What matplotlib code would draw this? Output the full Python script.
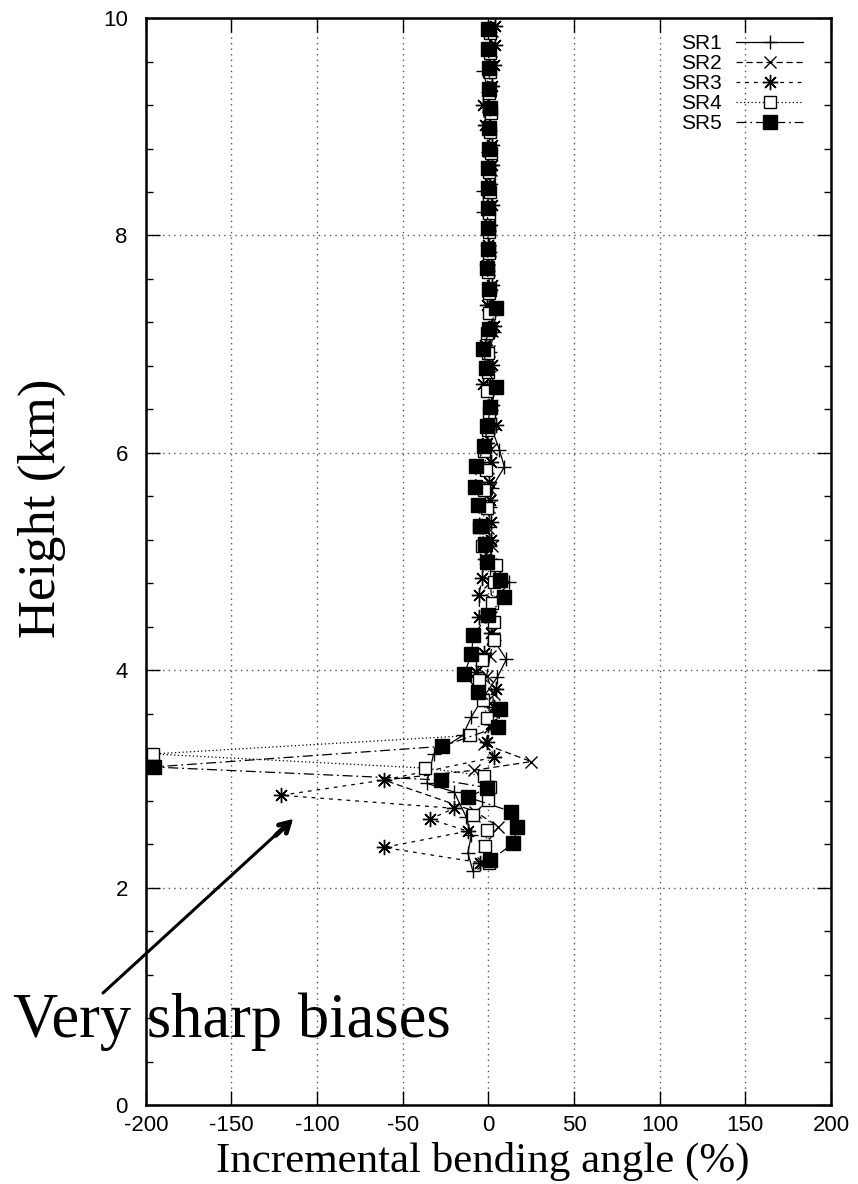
import matplotlib
matplotlib.use("Agg")
import matplotlib.pyplot as plt
from matplotlib.ticker import MultipleLocator

plt.rcParams["axes.unicode_minus"] = False

# Incremental bending angle (%) against height (km) for five retrievals
h1 = [9.87, 9.69, 9.51, 9.32, 9.14, 8.96, 8.77, 8.59, 8.41, 8.22, 8.04, 7.85, 7.67, 7.48, 7.30,
      7.11, 6.93, 6.75, 6.58, 6.39, 6.22, 6.03, 5.87, 5.68, 5.50, 5.32, 5.14, 4.97, 4.81, 4.62,
      4.45, 4.28, 4.10, 3.94, 3.75, 3.57, 3.40, 3.23, 2.96, 2.88, 2.65, 2.48, 2.32, 2.15]
sr1 = [1.0, 0.5, -3.0, 0.0, 0.5, 1.0, 0.0, 0.5, -3.0, -3.0, 0.5, 1.0, 0.0, 1.0, 2.0,
       3.0, 1.0, 0.5, 2.0, 1.5, 2.0, 6.4, 9.3, 2.0, 1.0, 0.0, 1.0, 3.0, 12.0, 3.0,
       2.0, 3.0, 10.5, 5.3, -3.0, -10.0, -15.0, -32.0, -36.0, -20.0, -13.0, -10.0, -12.0, -9.0]

h2 = [9.88, 9.70, 9.52, 9.33, 9.15, 8.97, 8.78, 8.60, 8.42, 8.23, 8.05, 7.86, 7.68, 7.49, 7.31,
      7.12, 6.94, 6.76, 6.59, 6.40, 6.23, 6.04, 5.86, 5.67, 5.50, 5.31, 5.14, 4.98, 4.81, 4.65,
      4.49, 4.30, 4.13, 3.95, 3.78, 3.62, 3.48, 3.32, 3.16, 3.08, 2.99, 2.70, 2.56, 2.38, 2.23]
sr2 = [2.0, 1.5, 1.0, 1.0, 0.5, 1.0, 0.5, 1.5, 0.5, 0.0, 0.5, 1.0, 0.5, 0.0, 1.0,
       2.0, 0.5, 0.0, -1.0, 1.0, 0.5, 1.5, 0.0, 1.0, 0.5, 0.0, 2.0, 1.5, 1.0, 2.0,
       1.5, 3.0, 1.0, -1.0, 3.0, 2.0, 1.0, -2.3, 25.0, -8.4, -61.0, -7.6, 5.8, -2.3, -3.0]

h3 = [9.93, 9.75, 9.57, 9.38, 9.20, 9.02, 8.83, 8.65, 8.47, 8.28, 8.10, 7.91, 7.73, 7.54, 7.36,
      7.17, 6.99, 6.81, 6.63, 6.44, 6.26, 6.09, 5.92, 5.73, 5.57, 5.36, 5.20, 5.02, 4.85, 4.69,
      4.49, 4.34, 4.16, 3.98, 3.83, 3.66, 3.51, 3.34, 3.20, 2.99, 2.85, 2.73, 2.63, 2.52, 2.37, 2.23]
sr3 = [4.0, 4.0, 3.0, 2.0, -3.0, -2.0, 2.0, 2.0, 1.0, 2.0, 1.0, 0.0, -1.0, 2.0, -1.0,
       3.0, -2.0, 2.0, -3.0, 2.0, 4.7, -1.0, 1.8, 0.6, 1.2, 1.8, 1.8, -2.0, -4.0, -5.3,
       -5.3, 1.8, -2.3, -7.0, 4.7, 3.0, 1.8, -0.6, 3.5, -61.0, -121.0, -20.0, -34.0, -12.0, -61.0, -5.0]

h4 = [9.86, 9.68, 9.50, 9.31, 9.13, 8.95, 8.76, 8.58, 8.40, 8.21, 8.03, 7.84, 7.66, 7.47, 7.29,
      7.10, 6.92, 6.74, 6.57, 6.38, 6.21, 6.02, 5.84, 5.66, 5.49, 5.32, 5.14, 4.97, 4.81, 4.62,
      4.44, 4.28, 4.09, 3.91, 3.73, 3.56, 3.40, 3.23, 3.10, 3.03, 2.93, 2.81, 2.67, 2.53, 2.38, 2.23]
sr4 = [1.0, 1.0, 1.0, 0.5, 1.5, 1.0, 1.5, 0.5, 1.0, 0.5, 0.5, 0.5, 0.0, 0.5, 0.6,
       -0.6, 0.0, 0.0, -0.6, 0.6, 0.0, -2.3, -1.2, -2.3, -1.0, -5.3, -4.0, 4.7, 3.5, 2.0,
       3.5, 3.5, -4.0, -5.3, -2.9, -1.0, -10.5, -196.0, -37.0, -2.3, 1.2, 0.0, -8.8, -0.6, -1.8, 0.6]

h5 = [9.90, 9.72, 9.54, 9.35, 9.17, 8.99, 8.80, 8.62, 8.44, 8.25, 8.07, 7.88, 7.70, 7.51, 7.33,
      7.14, 6.96, 6.78, 6.61, 6.42, 6.25, 6.06, 5.88, 5.69, 5.52, 5.33, 5.16, 5.00, 4.83, 4.67,
      4.51, 4.32, 4.15, 3.97, 3.80, 3.64, 3.48, 3.30, 3.11, 2.99, 2.92, 2.83, 2.70, 2.56, 2.41, 2.25]
sr5 = [0.0, 0.0, 0.5, 0.5, 1.0, 0.5, 0.5, 0.0, 0.0, -0.5, -0.5, 0.0, -1.0, 0.5, 4.7,
       0.6, -2.9, -1.2, 4.7, 1.2, -0.6, -2.3, -7.0, -7.6, -5.8, -4.7, -1.8, -0.6, 7.0, 9.3,
       0.0, -8.8, -9.9, -14.0, -5.8, 7.0, 5.8, -27.0, -195.5, -27.4, -0.6, -11.7, 13.4, 16.9, 14.6, 1.2]

xticks = [-200, -150, -100, -50, 0, 50, 100, 150, 200]
yticks = [0, 2, 4, 6, 8, 10]

fig = plt.figure(figsize=(8.58, 11.84), dpi=100)
ax = fig.add_axes([0.170, 0.0667, 0.7985, 0.918])

asterisk = (8, 2, 0)
lw = 0.9
ax.plot(sr1, h1, color="black", lw=lw, ls="-", marker="+", ms=10, mew=1.0, label="SR1", zorder=3)
ax.plot(sr2, h2, color="black", lw=lw, ls=(0, (5, 3)), marker="x", ms=8, mew=1.0, label="SR2", zorder=3)
ax.plot(sr3, h3, color="black", lw=lw, ls=(0, (3, 4)), marker=asterisk, ms=11, mew=1.0, label="SR3", zorder=3)
ax.plot(sr4, h4, color="black", lw=lw, ls=(0, (1, 2)), marker="s", ms=9, mew=1.0,
        mfc="white", label="SR4", zorder=3)
ax.plot(sr5, h5, color="black", lw=lw, ls=(0, (8, 3, 1.5, 3)), marker="s", ms=9.5, mew=1.0,
        mfc="black", label="SR5", zorder=4)

ax.set_xlim(-200, 200)
ax.set_ylim(0, 10)
ax.set_xticks(xticks)
ax.set_xticklabels([str(t) for t in xticks])
ax.set_yticks(yticks)
ax.set_yticklabels([str(t) for t in yticks])
ax.yaxis.set_minor_locator(MultipleLocator(0.4))

ax.grid(True, which="major", color="#555555", ls=(0, (1, 3)), lw=1.0)
ax.tick_params(which="both", direction="in", top=True, right=True, width=1.0,
               labelsize=16, labelfontfamily="Liberation Sans")
ax.tick_params(which="major", length=10, pad=7)
ax.tick_params(which="minor", length=5)
ax.tick_params(axis="y", which="major", pad=13)
for s in ax.spines.values():
    s.set_linewidth(1.8)

leg = ax.legend(loc="upper right", bbox_to_anchor=(0.959, 0.9855), frameon=False,
                markerfirst=False, handlelength=3.2, handletextpad=0.7,
                labelspacing=0.05, borderpad=0, borderaxespad=0,
                prop={"family": "Liberation Sans", "size": 15})

fig.text(42 / 858, 1 - 508 / 1184, "Height (km)", rotation=90, ha="center", va="center",
         fontsize=38, family="Liberation Serif")
fig.text(483 / 858, 1 - 1161 / 1184, "Incremental bending angle (%)", ha="center", va="center",
         fontsize=31, family="Liberation Serif")

# annotation pointing at the large negative excursions
fig.text(13 / 858, 1 - 1037 / 1184, "Very sharp biases", ha="left", va="baseline",
         fontsize=45, family="Liberation Serif")
tail = (103 / 858, 1 - 993 / 1184)
tip = (293 / 858, 1 - 819 / 1184)
ax.annotate("", xy=tip, xycoords="figure fraction", xytext=tail, textcoords="figure fraction",
            arrowprops=dict(arrowstyle="-", lw=2.2, color="black", shrinkA=0, shrinkB=2))
near = (tip[0] - 0.02, tip[1] - 0.0138)
ax.annotate("", xy=tip, xycoords="figure fraction", xytext=near, textcoords="figure fraction",
            arrowprops=dict(arrowstyle="->,head_length=0.7,head_width=0.4", lw=3.5,
                            color="black", shrinkA=0, shrinkB=0))

fig.savefig("out.png", dpi=100)
